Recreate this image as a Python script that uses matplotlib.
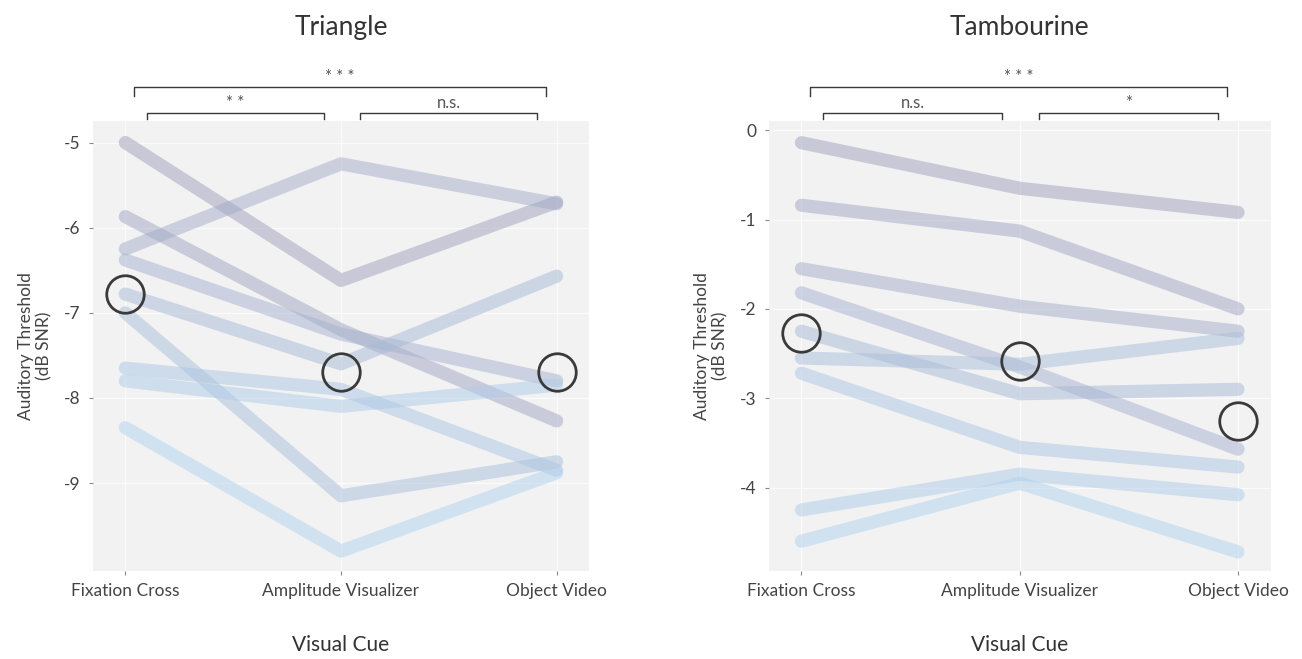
import numpy as np
import matplotlib
matplotlib.use("Agg")
import matplotlib.pyplot as plt
import matplotlib.transforms as mtransforms
from matplotlib.colors import LinearSegmentedColormap

plt.rcParams['font.family'] = ['Lato', 'DejaVu Sans']

cues = ["Fixation Cross", "Amplitude Visualizer", "Object Video"]

# per-subject thresholds (dB SNR), one row per subject: FC, AV, OV
triangle = [
    [-5.00, -6.62, -5.70],
    [-5.87, -7.20, -8.27],
    [-6.25, -5.25, -5.72],
    [-6.38, -7.25, -7.80],
    [-6.78, -7.60, -6.57],
    [-7.00, -9.15, -8.75],
    [-7.65, -7.90, -8.85],
    [-7.80, -8.10, -7.85],
    [-8.35, -9.80, -8.88],
]
tambourine = [
    [-0.14, -0.65, -0.92],
    [-0.84, -1.13, -2.00],
    [-1.55, -1.97, -2.25],
    [-1.82, -2.65, -3.57],
    [-2.25, -2.95, -2.90],
    [-2.55, -2.62, -2.33],
    [-2.72, -3.55, -3.77],
    [-4.25, -3.85, -4.08],
    [-4.60, -3.95, -4.72],
]
triangle_means = [-6.78, -7.70, -7.70]
tambourine_means = [-2.27, -2.58, -3.26]

triangle_ticks = [-5, -6, -7, -8, -9]
tambourine_ticks = [0, -1, -2, -3, -4]

triangle_sig = ["* * *", "* *", "n.s."]
tambourine_sig = ["* * *", "n.s.", "*"]

cmap = LinearSegmentedColormap.from_list("subj", ["#9fa0bc", "#b0d1ee"])
text_col = "#333333"


def bracket(ax, x0, x1, y, drop, label):
    tr = mtransforms.blended_transform_factory(ax.transData, ax.transAxes)
    ax.plot([x0, x0, x1, x1], [y - drop, y, y, y - drop], color="#3a3a3a",
            lw=1.0, transform=tr, clip_on=False)
    ax.text((x0 + x1) / 2, y + 0.004, label, transform=tr, ha="center",
            va="bottom", fontsize=12, color="#555555")


def panel(ax, data, means, ticks, ylim, title, sig):
    ax.set_facecolor("#f2f2f3")
    x = np.arange(1, 4)
    n = len(data)
    for i, row in enumerate(data):
        ax.plot(x, row, color=cmap(i / (n - 1)), lw=9.5, alpha=0.5,
                solid_capstyle="round", solid_joinstyle="round", zorder=2)
    ax.plot(x, means, ls="none", marker="o", ms=27, mfc="none",
            mec="#3a3a3a", mew=2.0, zorder=3)
    ax.set_xlim(0.85, 3.15)
    ax.set_ylim(*ylim)
    ax.set_xticks(x)
    ax.set_xticklabels(cues, fontsize=12.5, color="#444444")
    ax.set_yticks(ticks)
    ax.set_yticklabels([str(t) for t in ticks], fontsize=12.5, color="#444444")
    ax.grid(True, color="#fbfbfb", lw=0.9, zorder=0)
    ax.set_axisbelow(True)
    for s in ax.spines.values():
        s.set_visible(False)
    ax.tick_params(length=3, color="#888888", width=0.8, pad=6)
    ax.set_ylabel("Auditory Threshold\n(dB SNR)", fontsize=12.5,
                  color="#444444", labelpad=8)
    ax.set_xlabel("Visual Cue", fontsize=15, color=text_col, labelpad=26)
    ax.set_title(title, fontsize=19, color=text_col, pad=62)
    bracket(ax, 1.04, 2.95, 1.077, 0.021, sig[0])
    bracket(ax, 1.10, 1.92, 1.018, 0.013, sig[1])
    bracket(ax, 2.09, 2.91, 1.018, 0.013, sig[2])


fig = plt.figure(figsize=(13.02, 6.59), dpi=100)
ax1 = fig.add_axes([0.0714, 0.134, 0.381, 0.682])
ax2 = fig.add_axes([0.5904, 0.134, 0.3856, 0.682])

panel(ax1, triangle, triangle_means, triangle_ticks, (-10.03, -4.75),
      "Triangle", triangle_sig)
panel(ax2, tambourine, tambourine_means, tambourine_ticks, (-4.93, 0.10),
      "Tambourine", tambourine_sig)

fig.savefig("out.png", dpi=100, facecolor="white")
